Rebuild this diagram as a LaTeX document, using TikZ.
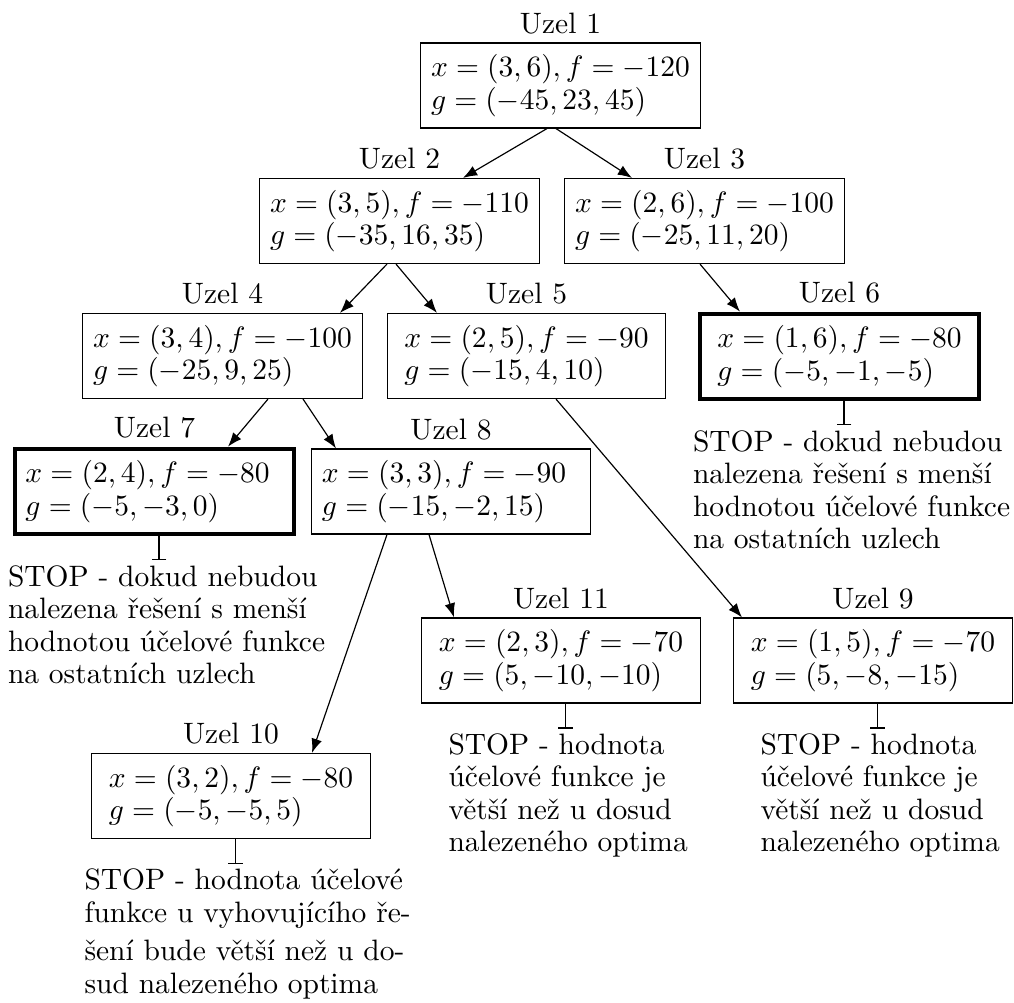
\documentclass[tikz,border=0pt]{standalone}
\usetikzlibrary{positioning, calc, arrows.meta}
\tikzstyle{uzel} = [rectangle, draw=black, minimum width=94.5pt, inner xsep=3.5pt, inner ysep=3.9pt, align=left, font=\fontsize{10}{11}\selectfont]
\tikzstyle{uzelvlevo} = [uzel, text width=87.5pt]
\tikzstyle{uzelkonec} = [ultra thick]
\tikzstyle{nadpis} = [inner sep=2.7pt]
\tikzstyle{poznamka} = [anchor=north west, inner sep=1.5pt, align=left, font=\fontsize{10}{11}\selectfont]
\tikzstyle{sipka} = [->, >=Latex]
\tikzstyle{konec} = [-{Bar[width=5pt]}]

\begin{document}
\begin{tikzpicture}[x=0.339pt, y=-0.339pt]
\useasboundingbox (0,0) rectangle (1014,1003);

% uzly stromu
\node (n1) [uzel] at (560.5,85.5) {$x=(3,6), f=-120$\\ $g=(-45,23,45)$};
\node (n2) [uzel] at (399.5,221) {$x=(3,5), f=-110$\\ $g=(-35,16,35)$};
\node (n3) [uzel] at (704.5,221) {$x=(2,6), f=-100$\\ $g=(-25,11,20)$};
\node (n4) [uzel] at (222.5,356) {$x=(3,4), f=-100$\\ $g=(-25,9,25)$};
\node (n5) [uzel] at (526.5,356) {$x=(2,5), f=-90$\\ $g=(-15,4,10)$};
\node (n6) [uzel, uzelkonec] at (839.5,356.5) {$x=(1,6), f=-80$\\ $g=(-5,-1,-5)$};
\node (n7) [uzelvlevo, uzelkonec] at (154.5,491.5) {$x=(2,4), f=-80$\\ $g=(-5,-3,0)$};
\node (n8) [uzelvlevo] at (451,491.5) {$x=(3,3), f=-90$\\ $g=(-15,-2,15)$};
\node (n9) [uzel] at (873,660.5) {$x=(1,5), f=-70$\\ $g=(5,-8,-15)$};
\node (n10) [uzel] at (231,796) {$x=(3,2), f=-80$\\ $g=(-5,-5,5)$};
\node (n11) [uzel] at (561,660.5) {$x=(2,3), f=-70$\\ $g=(5,-10,-10)$};

% nadpisy
\node (l1) [nadpis, above=0pt of n1] {Uzel 1};
\node (l2) [nadpis, above=0pt of n2] {Uzel 2};
\node (l3) [nadpis, above=0pt of n3] {Uzel 3};
\node (l4) [nadpis, above=0pt of n4] {Uzel 4};
\node (l5) [nadpis, above=0pt of n5] {Uzel 5};
\node (l6) [nadpis, above=0pt of n6] {Uzel 6};
\node (l7) [nadpis, above=0pt of n7] {Uzel 7};
\node (l8) [nadpis, above=0pt of n8] {Uzel 8};
\node (l9) [nadpis, above=0pt of n9] {Uzel 9};
\node (l10) [nadpis, above=0pt of n10] {Uzel 10};
\node (l11) [nadpis, above=0pt of n11] {Uzel 11};

% vetveni
\draw [sipka] ($(n1.south)+(-13.5,0)$) -- ($(n2.north)+(63.5,0)$);
\draw [sipka] ($(n1.south)+(-4.5,0)$) -- ($(n3.north)+(-72.5,0)$);
\draw [sipka] ($(n2.south)+(-12.5,0)$) -- ($(n4.north)+(117.5,0)$);
\draw [sipka] ($(n2.south)+(-3.5,0)$) -- ($(n5.north)+(-89.5,0)$);
\draw [sipka] ($(n3.south)+(-4.5,0)$) -- ($(n6.north)+(-99.5,0)$);
\draw [sipka] ($(n4.south)+(45.5,0)$) -- ($(n7.north)+(73.5,0)$);
\draw [sipka] ($(n4.south)+(80.5,0)$) -- ($(n8.north)+(-115,0)$);
\draw [sipka] ($(n5.south)+(29.5,0)$) -- ($(n9.north)+(-131,0)$);
\draw [sipka] ($(n8.south)+(-22,0)$) -- ($(n11.north)+(-107,0)$);
\draw [sipka] ($(n8.south)+(-64,0)$) -- ($(n10.north)+(81,0)$);

% konce vetvi
\draw [konec] ($(n6.south)+(4.5,0)$) -- ++(0,24) coordinate (k6);
\draw [konec] ($(n7.south)+(4.5,0)$) -- ++(0,24) coordinate (k7);
\draw [konec] ($(n9.south)+(4.5,0)$) -- ++(0,25) coordinate (k9);
\draw [konec] ($(n10.south)+(4.5,0)$) -- ++(0,25) coordinate (k10);
\draw [konec] ($(n11.south)+(4.5,0)$) -- ++(0,25) coordinate (k11);

\node (p6) [poznamka] at ($(k6)+(-156,0)$) {STOP - dokud nebudou\\nalezena řešení s menší\\hodnotou účelové funkce\\na ostatních uzlech};
\node (p7) [poznamka] at ($(k7)+(-156,0)$) {STOP - dokud nebudou\\nalezena řešení s menší\\hodnotou účelové funkce\\na ostatních uzlech};
\node (p9) [poznamka] at ($(k9)+(-122,0)$) {STOP - hodnota\\účelové funkce je\\větší než u dosud\\nalezeného optima};
\node (p11) [poznamka] at ($(k11)+(-122,0)$) {STOP - hodnota\\účelové funkce je\\větší než u dosud\\nalezeného optima};
\node (p10) [poznamka] at ($(k10)+(-156,0)$) {STOP - hodnota účelové\\funkce u vyhovujícího ře-\\[2pt]šení bude větší než u do-\\sud nalezeného optima};
\end{tikzpicture}
\end{document}
